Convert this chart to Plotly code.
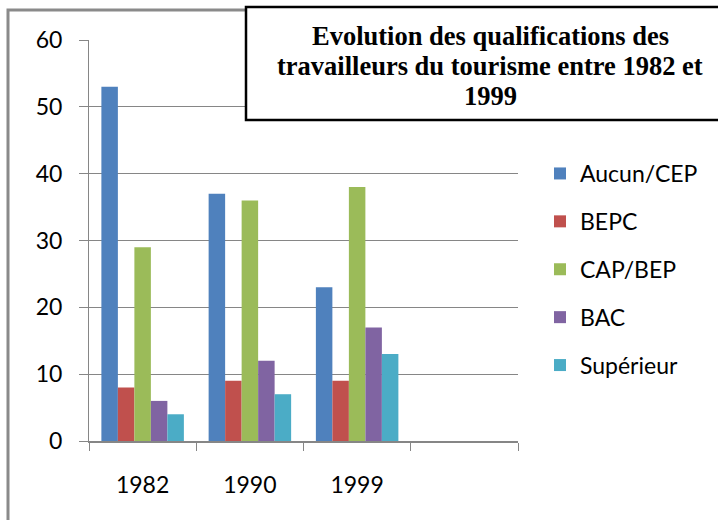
import plotly.graph_objects as go

categories = ["1982", "1990", "1999", " "]
series_names = ["Aucun/CEP", "BEPC", "CAP/BEP", "BAC", "Supérieur"]
aucun = [53, 37, 23]
bepc = [8, 9, 9]
cap_bep = [29, 36, 38]
bac = [6, 12, 17]
superieur = [4, 7, 13]
colors = ["#4F81BD", "#C0504D", "#9BBB59", "#8064A2", "#4BACC6"]
title_lines = ["Evolution des qualifications des",
               "travailleurs du tourisme entre 1982 et",
               "1999"]

W, H = 718, 520
L, R, T, B = 89, 200, 40, 79
PW, PH = W - L - R, H - T - B


def px(x):
    return (x - L) / PW


def py(y):
    return (H - B - y) / PH


fig = go.Figure()
for i, (name, vals) in enumerate(zip(series_names, [aucun, bepc, cap_bep, bac, superieur])):
    fig.add_trace(go.Bar(
        x=categories[:3], y=vals, name=name, marker=dict(color=colors[i], line=dict(width=0)),
        legendgroup=name,
    ))

tick_font = dict(family="Lato, 'Open Sans', sans-serif", size=23, color="#000000")
title_font = dict(family="'Liberation Serif', 'Times New Roman', serif", size=26.5, color="#000000")

annotations = []
for k, line in enumerate(title_lines):
    annotations.append(dict(
        text="<b>" + line + "</b>", xref="paper", yref="paper", x=px(490), y=py(36 + 30 * k),
        xanchor="center", yanchor="middle", showarrow=False, align="center", font=title_font,
    ))

fig.update_layout(
    width=W, height=H,
    margin=dict(l=L, r=R, t=T, b=B, autoexpand=False),
    paper_bgcolor="white", plot_bgcolor="white",
    barmode="group", bargap=1.5 / 6.5, bargroupgap=0,
    showlegend=True,
    legend=dict(
        x=px(540), y=py(152), xanchor="left", yanchor="top",
        font=tick_font, tracegroupgap=15, bgcolor="rgba(0,0,0,0)",
        itemwidth=30,
    ),
    xaxis=dict(
        type="category", categoryorder="array", categoryarray=categories,
        range=[-0.5, 3.5], showgrid=False, showline=True, linecolor="#868686", linewidth=2,
        ticks="outside", tickson="boundaries", ticklen=8, tickcolor="#868686", tickwidth=1,
        tickfont=tick_font, ticklabelstandoff=22, zeroline=False,
    ),
    yaxis=dict(
        range=[0, 60], tickvals=[0, 10, 20, 30, 40, 50, 60],
        showgrid=True, gridcolor="#868686", gridwidth=1,
        showline=True, linecolor="#868686", linewidth=1,
        ticks="outside", ticklen=9, tickcolor="#868686", tickwidth=1,
        tickfont=tick_font, ticklabelstandoff=12, zeroline=False,
    ),
    shapes=[
        dict(type="rect", xref="paper", yref="paper",
             x0=px(8), x1=px(735), y0=py(10), y1=py(540),
             line=dict(color="#8a8a8a", width=3), fillcolor="rgba(0,0,0,0)", layer="above"),
        dict(type="rect", xref="paper", yref="paper",
             x0=px(246), x1=px(735), y0=py(7), y1=py(120),
             line=dict(color="#000000", width=2.5), fillcolor="white", layer="above"),
    ],
    annotations=annotations,
)

fig.write_html("out.html", config={"displayModeBar": False},
               post_script="document.body.style.margin='0';document.body.style.overflow='hidden';")
